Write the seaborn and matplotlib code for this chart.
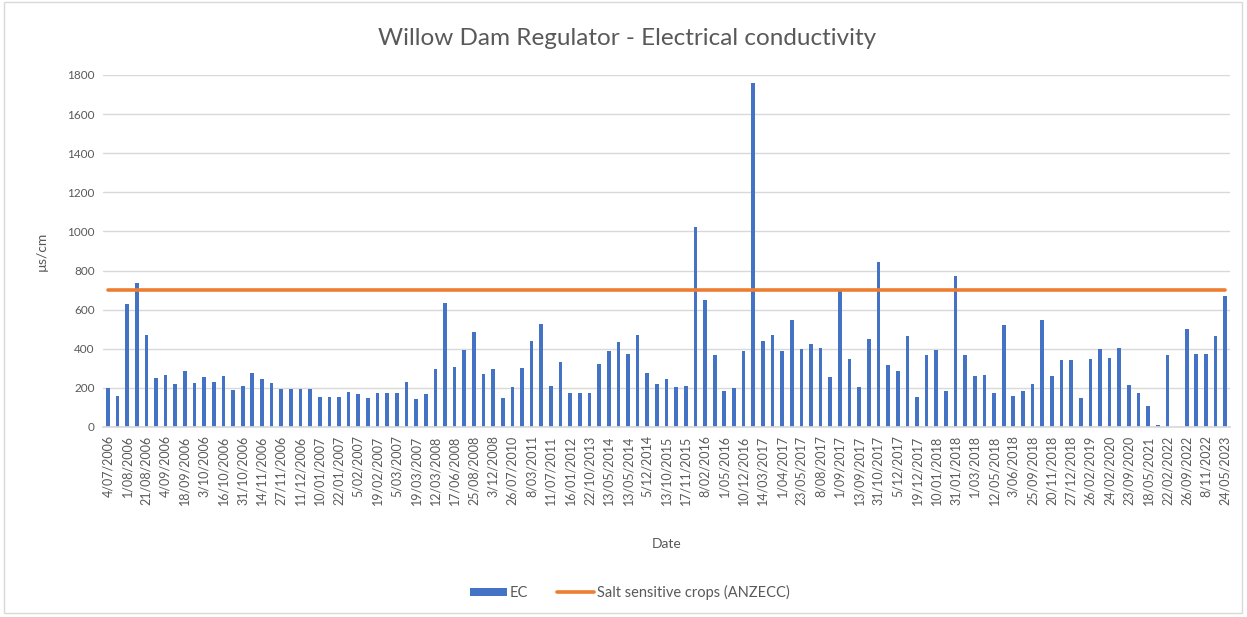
import matplotlib
matplotlib.use("Agg")
import matplotlib.pyplot as plt
import seaborn as sns
import pandas as pd
import numpy as np
from matplotlib.patches import Patch, Rectangle
from matplotlib.lines import Line2D

# Electrical conductivity samples (µs/cm), in sampling order
ec_values = [
    200, 160, 630, 735, 470, 250, 265, 220, 285, 225,
    255, 230, 260, 190, 210, 275, 245, 225, 195, 195,
    195, 195, 155, 152, 152, 177, 169, 148, 174, 172,
    172, 232, 141, 170, 298, 632, 308, 392, 484, 272,
    296, 150, 204, 301, 441, 525, 211, 334, 174, 174,
    174, 320, 390, 436, 373, 470, 276, 218, 245, 204,
    211, 1025, 651, 366, 186, 199, 388, 1760, 441, 468,
    387, 545, 400, 424, 404, 254, 695, 347, 206, 450,
    845, 315, 288, 465, 153, 366, 392, 182, 772, 366,
    259, 264, 172, 521, 160, 182, 221, 547, 261, 341,
    341, 148, 349, 400, 351, 404, 216, 175, 109, 8,
    366, 0, 501, 371, 371, 463, 671,
]

# Date labels shown on every second sample
date_labels = [
    "4/07/2006", "1/08/2006", "21/08/2006", "4/09/2006", "18/09/2006",
    "3/10/2006", "16/10/2006", "31/10/2006", "14/11/2006", "27/11/2006",
    "11/12/2006", "10/01/2007", "22/01/2007", "5/02/2007", "19/02/2007",
    "5/03/2007", "19/03/2007", "12/03/2008", "17/06/2008", "25/08/2008",
    "3/12/2008", "26/07/2010", "8/03/2011", "11/07/2011", "16/01/2012",
    "22/10/2013", "13/05/2014", "13/05/2014", "5/12/2014", "13/10/2015",
    "17/11/2015", "8/02/2016", "1/05/2016", "10/12/2016", "14/03/2017",
    "1/04/2017", "23/05/2017", "8/08/2017", "1/09/2017", "13/09/2017",
    "31/10/2017", "5/12/2017", "19/12/2017", "10/01/2018", "31/01/2018",
    "1/03/2018", "12/05/2018", "3/06/2018", "25/09/2018", "20/11/2018",
    "27/12/2018", "26/02/2019", "24/02/2020", "23/09/2020", "18/05/2021",
    "22/02/2022", "26/09/2022", "8/11/2022", "24/05/2023",
]

# ANZECC guideline for salt sensitive crops (µs/cm)
anzecc_limit = 700

y_ticks = [0, 200, 400, 600, 800, 1000, 1200, 1400, 1600, 1800]

BAR_BLUE = "#4472C4"
LINE_ORANGE = "#ED7D31"
TEXT_GREY = "#595959"
GRID_GREY = "#D9D9D9"

sns.set_theme(style="white")
plt.rcParams["font.family"] = ["Lato", "DejaVu Sans"]

n = len(ec_values)
df = pd.DataFrame({"sample": np.arange(n), "EC": ec_values})
limit_df = pd.DataFrame({"sample": np.arange(n), "limit": [anzecc_limit] * n})

fig = plt.figure(figsize=(12.47, 6.17), dpi=100)
ax = fig.add_axes([0.0826, 0.308, 0.9038, 0.5705])

sns.barplot(data=df, x="sample", y="EC", color=BAR_BLUE, saturation=1,
            width=0.38, linewidth=0, ax=ax, zorder=2)
sns.lineplot(data=limit_df, x="sample", y="limit", color=LINE_ORANGE,
             linewidth=2.6, ax=ax, zorder=3)

ax.set_xlim(-0.5, n - 0.5)
ax.set_ylim(0, 1800)
ax.set_yticks(y_ticks)
ax.set_yticklabels([str(v) for v in y_ticks], color=TEXT_GREY, fontsize=8.5)
ax.set_xticks(np.arange(0, n, 2))
ax.set_xticklabels(date_labels, rotation=90, color=TEXT_GREY, fontsize=9)
ax.tick_params(axis="both", length=0, pad=6)
ax.yaxis.grid(True, color=GRID_GREY, linewidth=1)
ax.set_axisbelow(True)
for side in ["top", "right", "left"]:
    ax.spines[side].set_visible(False)
ax.spines["bottom"].set_color(GRID_GREY)

ax.set_xlabel("Date", color=TEXT_GREY, fontsize=10, labelpad=24)
ax.set_ylabel("µs/cm", color=TEXT_GREY, fontsize=10, labelpad=14)
fig.text(0.503, 0.938, "Willow Dam Regulator - Electrical conductivity",
         ha="center", va="center", fontsize=17.5, color=TEXT_GREY)

handles = [
    Patch(facecolor=BAR_BLUE, edgecolor="none", label="EC"),
    Line2D([0], [0], color=LINE_ORANGE, linewidth=2.6,
           label="Salt sensitive crops (ANZECC)"),
]
leg = fig.legend(handles=handles, loc="center", bbox_to_anchor=(0.505, 0.04),
                 ncol=2, frameon=False, fontsize=10.5, handlelength=2.5,
                 handleheight=0.45, columnspacing=2.0, handletextpad=0.2)
for t in leg.get_texts():
    t.set_color(TEXT_GREY)

# Chart area border
fig.patches.append(Rectangle((0.003, 0.006), 0.993, 0.99, transform=fig.transFigure,
                             fill=False, edgecolor="#D9D9D9", linewidth=1))

fig.savefig("out.png", dpi=100, facecolor="white")
